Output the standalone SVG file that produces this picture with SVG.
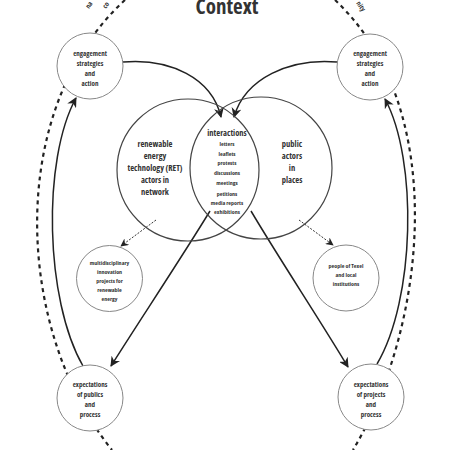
<svg xmlns="http://www.w3.org/2000/svg" width="450" height="450" viewBox="0 0 450 450">
<style>
text{font-family:'Open Sans','Liberation Sans',sans-serif;font-stretch:condensed;font-weight:bold;fill:#333;text-anchor:middle}
.t{font-size:7px}
.s{font-size:6px}
.m{font-size:8.5px}
.oc{fill:#fff;stroke:#888;stroke-width:1}
.bc{fill:none;stroke:#444;stroke-width:1.2}
.ar{fill:none;stroke:#222;stroke-width:1.5}
.da{fill:none;stroke:#222;stroke-width:2.2;stroke-dasharray:4 4}
.dt{fill:none;stroke:#333;stroke-width:1;stroke-dasharray:2 1.5}
</style>
<defs>
<marker id="ah" viewBox="0 0 10 10" refX="9" refY="5" markerWidth="10" markerHeight="10" markerUnits="userSpaceOnUse" orient="auto">
<path d="M0,0 L10,5 L0,10 L3,5 z" fill="#222"/>
</marker>
<marker id="sh" viewBox="0 0 10 10" refX="9" refY="5" markerWidth="8" markerHeight="8" markerUnits="userSpaceOnUse" orient="auto">
<path d="M0,0 L10,5 L0,10 L3,5 z" fill="#222"/>
</marker>
</defs>
<rect width="450" height="450" fill="#fff"/>
<g id="context-labels">
<text x="227" y="14" style="font-size:21px">Context</text>
<text class="t" x="89" y="9" transform="rotate(-55 89 9)" style="text-anchor:start">na</text>
<text class="t" x="106" y="9" transform="rotate(-55 106 9)" style="text-anchor:start">co</text>
<text class="t" x="362" y="12" transform="rotate(55 362 12)" style="text-anchor:end">nity</text>
</g>
<g id="connectors">
<path class="da" d="M125,0 C5,110 15,330 112,450"/>
<path class="da" d="M335,0 C452,110 425,330 353,450"/>
<path class="ar" d="M123,62 C170,58 212,78 221,117" marker-end="url(#ah)"/>
<path class="ar" d="M337,62 C290,58 245,78 234,117" marker-end="url(#ah)"/>
<path class="ar" d="M210,211 C180,260 140,320 111,366" marker-end="url(#ah)"/>
<path class="ar" d="M251,211 C280,260 320,320 348,367" marker-end="url(#ah)"/>
<path class="ar" d="M83,366 C45,300 42,160 76,98" marker-end="url(#ah)"/>
<path class="ar" d="M377,364 C415,300 418,160 385,99" marker-end="url(#ah)"/>
<path class="dt" d="M156,220 L121,246" marker-end="url(#sh)"/>
<path class="dt" d="M299,220 L333,245" marker-end="url(#sh)"/>
</g>
<g id="ret-actors">
<circle class="bc" cx="188" cy="170" r="71"/>
<text class="m" x="155" y="147">renewable</text>
<text class="m" x="155" y="159">energy</text>
<text class="m" x="155" y="171">technology (RET)</text>
<text class="m" x="155" y="183">actors in</text>
<text class="m" x="155" y="195">network</text>
</g>
<g id="public-actors">
<circle class="bc" cx="261" cy="168" r="71"/>
<text class="m" x="292" y="147">public</text>
<text class="m" x="292" y="159">actors</text>
<text class="m" x="292" y="171">in</text>
<text class="m" x="292" y="183">places</text>
</g>
<g id="interactions">
<text class="m" x="227" y="136">interactions</text>
<text class="s" x="227" y="146">letters</text>
<text class="s" x="227" y="155.5">leaflets</text>
<text class="s" x="227" y="165">protests</text>
<text class="s" x="227" y="175">discussions</text>
<text class="s" x="227" y="184.5">meetings</text>
<text class="s" x="227" y="196">petitions</text>
<text class="s" x="227" y="204.5">media reports</text>
<text class="s" x="227" y="213.5">exhibitions</text>
</g>
<g id="engagement-left">
<circle class="oc" cx="90" cy="66" r="33"/>
<text class="t" x="90" y="55.5">engagement</text>
<text class="t" x="90" y="65.5">strategies</text>
<text class="t" x="90" y="75.5">and</text>
<text class="t" x="90" y="85.5">action</text>
</g>
<g id="engagement-right">
<circle class="oc" cx="370" cy="67" r="33"/>
<text class="t" x="370" y="55.5">engagement</text>
<text class="t" x="370" y="65.5">strategies</text>
<text class="t" x="370" y="75.5">and</text>
<text class="t" x="370" y="85.5">action</text>
</g>
<g id="multidisciplinary">
<circle class="oc" cx="109.5" cy="278.5" r="33"/>
<text class="s" x="109.5" y="265">multidisciplinary</text>
<text class="s" x="109.5" y="274">innovation</text>
<text class="s" x="109.5" y="283">projects for</text>
<text class="s" x="109.5" y="292">renewable</text>
<text class="s" x="109.5" y="301">energy</text>
</g>
<g id="people-texel">
<circle class="oc" cx="346" cy="278" r="33"/>
<text class="s" x="346" y="268">people of Texel</text>
<text class="s" x="346" y="277">and local</text>
<text class="s" x="346" y="285.5">institutions</text>
</g>
<g id="expectations-publics">
<circle class="oc" cx="90" cy="398" r="33"/>
<text class="t" x="90" y="386.5">expectations</text>
<text class="t" x="90" y="396.5">of publics</text>
<text class="t" x="90" y="406.5">and</text>
<text class="t" x="90" y="417">process</text>
</g>
<g id="expectations-projects">
<circle class="oc" cx="371" cy="397" r="33"/>
<text class="t" x="371" y="386.5">expectations</text>
<text class="t" x="371" y="396.5">of projects</text>
<text class="t" x="371" y="406.5">and</text>
<text class="t" x="371" y="417">process</text>
</g>
</svg>
